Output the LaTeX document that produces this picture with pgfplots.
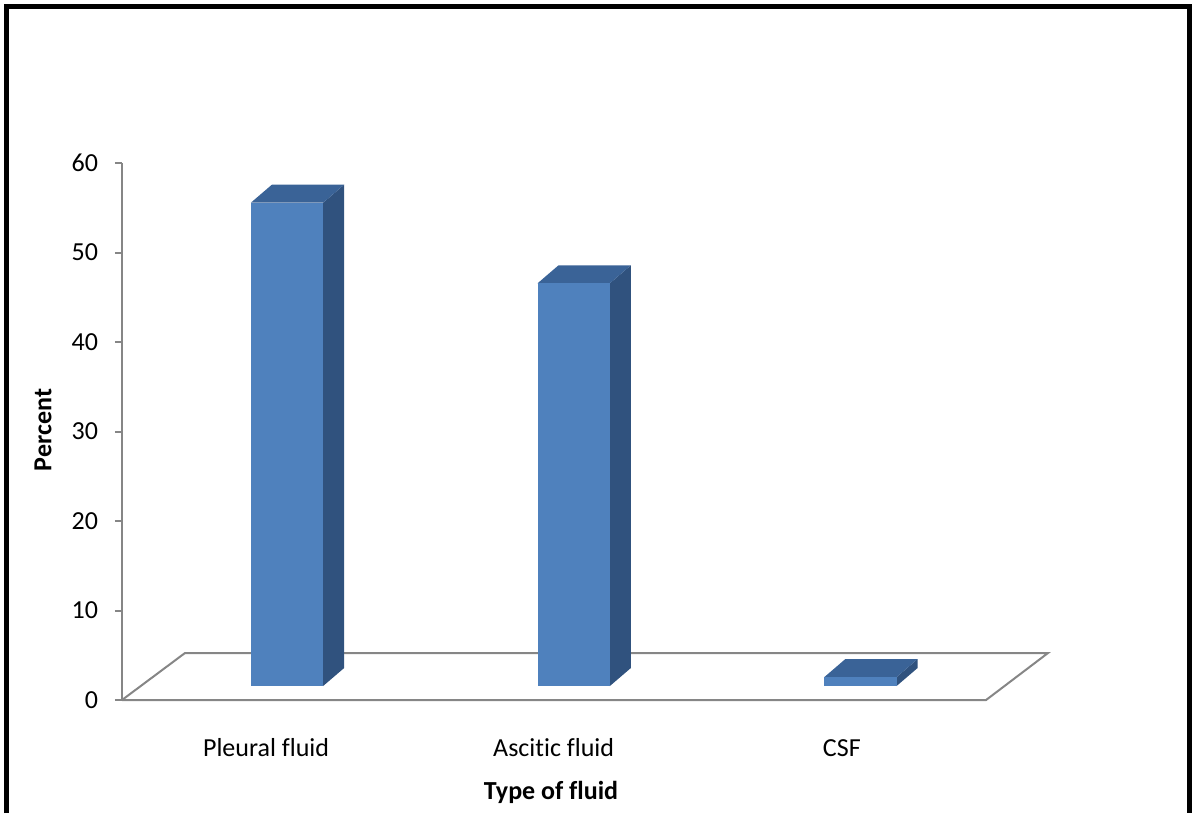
\documentclass[border=0pt]{standalone}
\usepackage{pgfplots}
\pgfplotsset{compat=1.18}
\usepackage{pgfplotstable}
\usepackage{fontspec}
\setmainfont[Ligatures=NoCommon]{Carlito}
\definecolor{barfront}{RGB}{79,129,189}
\definecolor{bartop}{RGB}{58,99,151}
\definecolor{barside}{RGB}{48,82,126}
\definecolor{axgray}{RGB}{134,134,134}

\pgfplotstableread{
x value
0 54
1 45
2 1
}\fluiddata

\begin{document}
\fontsize{13}{15.6}\selectfont
\begin{tikzpicture}[x=1pt,y=1pt]
\path[use as bounding box] (-61,-56.5) rectangle (535,350);
\draw[line width=2.5pt] (-57.5,-56.5) -- (-57.5,346.5) -- (533.5,346.5) -- (533.5,-56.5);
\begin{axis}[
  at={(0,0)}, anchor=south west,
  scale only axis, width=463pt, height=268.5pt,
  xmin=-0.5755, xmax=2.654, ymin=0, ymax=60,
  clip=false,
  axis lines=left,
  axis line style={-},
  x axis line style={draw=none},
  y axis line style={axgray, line width=1pt},
  xtick style={draw=none},
  ytick style={axgray, line width=1pt},
  tick align=outside,
  major tick length=3.5pt,
  ytick={0,10,...,60},
  xtick={-0.073,0.93,1.935},
  xticklabels={Pleural fluid, Ascitic fluid, CSF},
  xticklabel style={anchor=base, yshift=-24.5pt},
  yticklabel style={anchor=east, xshift=-4pt},
  /pgf/number format/assume math mode=true,
  xlabel={\textbf{Type of fluid}},
  ylabel={\textbf{Percent}},
  x label style={at={(axis description cs:0.4633,-0.1844)}, anchor=base},
  y label style={at={(axis description cs:-0.0853,0.5028)}, anchor=center, rotate=0},
]
% floor
\addplot[axgray, line width=1pt] coordinates {(-0.5755,0) (2.438,0) (2.654,5.25) (-0.3558,5.25) (-0.5755,0)};
% 3D bars built from the table values
\pgfplotsinvokeforeach{0,1,2}{
  \pgfplotstablegetelem{#1}{value}\of\fluiddata
  \let\barVal\pgfplotsretval
  \pgfmathsetmacro\xL{#1-0.126}
  \pgfmathsetmacro\xR{#1+0.126}
  \pgfmathsetmacro\xLb{#1-0.126+0.0732}
  \pgfmathsetmacro\xRb{#1+0.126+0.0732}
  \pgfmathsetmacro\yB{1.564}
  \pgfmathsetmacro\yBb{1.564+2.011}
  \pgfmathsetmacro\yT{\barVal+1.564}
  \pgfmathsetmacro\yTb{\barVal+1.564+2.011}
  \addplot[fill=barside, draw=none] coordinates {(\xR,\yB) (\xRb,\yBb) (\xRb,\yTb) (\xR,\yT)};
  \addplot[fill=bartop, draw=none] coordinates {(\xL,\yT) (\xR,\yT) (\xRb,\yTb) (\xLb,\yTb)};
  \addplot[fill=barfront, draw=none] coordinates {(\xL,\yB) (\xR,\yB) (\xR,\yT) (\xL,\yT)};
}
\end{axis}
\end{tikzpicture}
\end{document}
